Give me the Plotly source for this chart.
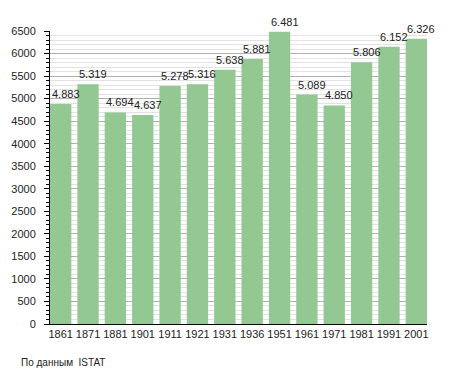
import plotly.graph_objects as go

years = ["1861", "1871", "1881", "1901", "1911", "1921", "1931", "1936",
         "1951", "1961", "1971", "1981", "1991", "2001"]
population = [4883, 5319, 4694, 4637, 5278, 5316, 5638, 5881,
              6481, 5089, 4850, 5806, 6152, 6326]
labels = [f"{v // 1000}.{v % 1000:03d}" for v in population]
y_ticks = list(range(0, 6501, 500))
source_note = "По данным  ISTAT"

BAR_W = 0.78
idx = list(range(len(years)))

fig = go.Figure()
fig.add_trace(go.Bar(
    x=idx, y=population, marker=dict(color="#93c893", line=dict(width=0)),
    width=BAR_W, hoverinfo="skip",
))

annotations = [
    dict(x=i, y=v, text=t, xref="x", yref="y", xanchor="left", yanchor="bottom",
         xshift=-11, yshift=2, showarrow=False, font=dict(size=11, color="#222"))
    for i, v, t in zip(idx, population, labels)
]
annotations.append(dict(text=source_note, xref="paper", yref="paper",
                        x=-0.083, y=-0.13, xanchor="left", yanchor="middle",
                        showarrow=False, font=dict(size=10, color="#222")))

fig.update_layout(
    width=447, height=365,
    margin=dict(l=42, r=28, t=23, b=49),
    paper_bgcolor="white", plot_bgcolor="white",
    font=dict(family="Liberation Sans, Arial, sans-serif", size=11, color="#222"),
    showlegend=False,
    xaxis=dict(range=[-0.39, 13.39], tickvals=idx, ticktext=years, showline=True,
               linecolor="black", linewidth=1, ticks="", showgrid=False,
               zeroline=False, tickfont=dict(size=11), automargin=False),
    yaxis=dict(range=[0, 6500], tickvals=y_ticks, showline=True, linecolor="black",
               linewidth=1, ticks="outside", ticklen=5, tickcolor="black",
               ticklabelstandoff=6, automargin=False,
               showgrid=True, gridcolor="#b0b0b0", gridwidth=1, zeroline=False,
               minor=dict(dtick=100, showgrid=True, gridcolor="#e2e2e2",
                          ticks="outside", ticklen=3, tickcolor="black"),
               tickfont=dict(size=11)),
    annotations=annotations,
)

fig.write_html("out.html")
